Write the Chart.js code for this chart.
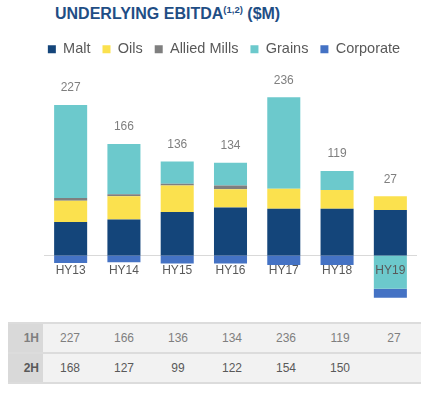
<!DOCTYPE html>
<html lang="en">
<head>
<meta charset="UTF-8">
<title>Underlying EBITDA</title>
<script src="https://cdn.jsdelivr.net/npm/chart.js"></script>
<style>
    body { margin: 0; background: #fff; font-family: "Liberation Sans", Arial, sans-serif; }
    #title {
        position: absolute; left: 55px; top: 4px;
        font-size: 16px; font-weight: bold; color: #1f4e85; white-space: nowrap;
    }
    #title sup { font-size: 9.5px; }
    #wrap { position: absolute; left: 0; top: 0; width: 437px; height: 315px; }
    #halves {
        position: absolute; left: 8px; top: 322px;
        border-collapse: collapse; font-size: 12px;
    }
    #halves td {
        width: 54px; height: 28px; padding: 0; text-align: center;
        background: #f2f2f2; border-top: 2px solid #dcdcdc;
    }
    #halves tr:last-child td { border-bottom: 2px solid #dcdcdc; }
    #halves td.head { width: 31px; background: #d9d9d9; font-weight: bold; text-align: right; padding-right: 4px; }
    #halves tr.h1 td { color: #7f7f7f; }
    #halves tr.h2 td { color: #595959; }
</style>
</head>
<body>

<div id="title">UNDERLYING EBITDA<sup>(1,2)</sup> ($M)</div>
<div id="wrap"><canvas id="ebitdaChart"></canvas></div>
<table id="halves"></table>

<script>
    // Half-year periods
    const periods = ['HY13', 'HY14', 'HY15', 'HY16', 'HY17', 'HY18', 'HY19'];

    // Segment contributions ($M)
    const malt      = [53, 57, 69, 76, 74, 74, 72];
    const oils      = [34, 37, 42, 29, 32, 30, 22];
    const allied    = [4, 3, 3, 6, 0, 0, 0];
    const grains    = [148, 80, 35, 36, 145, 30, -53];
    const corporate = [-12, -11, -13, -13, -15, -15, -14];

    // Table rows
    const firstHalf  = [227, 166, 136, 134, 236, 119, 27];
    const secondHalf = [168, 127, 99, 122, 154, 150, null];

    // Build the 1H / 2H table
    const table = document.getElementById('halves');
    [['1H', firstHalf, 'h1'], ['2H', secondHalf, 'h2']].forEach(([name, values, cls]) => {
        const tr = document.createElement('tr');
        tr.className = cls;
        const head = document.createElement('td');
        head.className = 'head';
        head.textContent = name;
        tr.appendChild(head);
        values.forEach(v => {
            const td = document.createElement('td');
            td.textContent = v === null ? '' : v;
            tr.appendChild(td);
        });
        table.appendChild(tr);
    });

    // Zero line, period labels and totals drawn on the chart
    const decorations = {
        id: 'decorations',
        beforeDatasetsDraw(chart) {
            const {ctx, chartArea, scales} = chart;
            const y0 = Math.round(scales.y.getPixelForValue(0)) + 0.5;
            ctx.save();
            ctx.strokeStyle = '#d9d9d9';
            ctx.lineWidth = 1;
            ctx.beginPath();
            ctx.moveTo(chartArea.left, y0);
            ctx.lineTo(chartArea.right, y0);
            ctx.stroke();
            ctx.restore();
        },
        afterDatasetsDraw(chart) {
            const {ctx, scales} = chart;
            ctx.save();
            ctx.font = '12px "Liberation Sans", Arial, sans-serif';
            ctx.textAlign = 'center';
            ctx.textBaseline = 'middle';
            periods.forEach((p, i) => {
                const x = scales.x.getPixelForValue(i);
                ctx.fillStyle = '#595959';
                ctx.fillText(p, x, scales.y.getPixelForValue(0) + 15);
                const top = [malt, oils, allied, grains, corporate]
                    .reduce((s, arr) => s + Math.max(arr[i], 0), 0);
                ctx.fillStyle = '#7f7f7f';
                ctx.fillText(firstHalf[i], x, scales.y.getPixelForValue(top) - 17);
            });
            ctx.restore();
        }
    };

    const seg = (label, data, color) => ({
        label: label,
        data: data,
        backgroundColor: color,
        borderWidth: 0,
        barPercentage: 0.62,
        categoryPercentage: 1
    });

    const ctx = document.getElementById('ebitdaChart').getContext('2d');
    new Chart(ctx, {
        type: 'bar',
        data: {
            labels: periods,
            datasets: [
                seg('Malt', malt, '#14457a'),
                seg('Oils', oils, '#fbe14e'),
                seg('Allied Mills', allied, '#7f7f7f'),
                seg('Grains', grains, '#6cc9cc'),
                seg('Corporate', corporate, '#4472c4')
            ]
        },
        options: {
            responsive: true,
            maintainAspectRatio: false,
            animation: false,
            layout: { padding: { top: 30, left: 31, right: 20, bottom: 1 } },
            plugins: {
                tooltip: { enabled: false },
                legend: {
                    position: 'top',
                    labels: {
                        boxWidth: 8,
                        boxHeight: 8,
                        padding: 12,
                        color: '#595959',
                        font: { family: '"Liberation Sans", Arial, sans-serif', size: 14.5 }
                    }
                }
            },
            scales: {
                x: { stacked: true, display: false },
                y: {
                    stacked: true,
                    min: -93,
                    max: 300,
                    ticks: { display: false },
                    grid: { display: false },
                    border: { display: false },
                    afterFit(axis) { axis.width = 13; }
                }
            }
        },
        plugins: [decorations]
    });
</script>

</body>
</html>
